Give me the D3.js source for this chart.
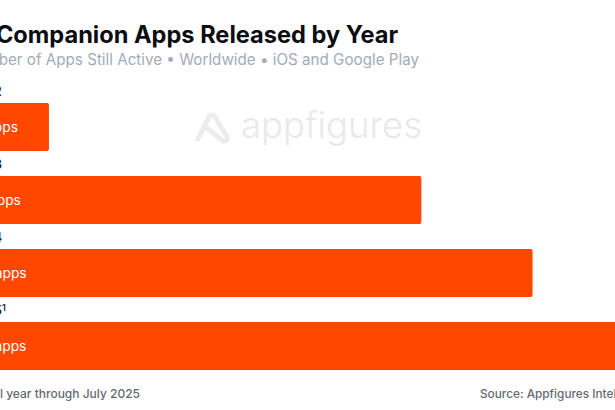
<!DOCTYPE html>
<html>
<head>
<meta charset="utf-8">
<script src="https://cdn.jsdelivr.net/npm/d3@7"></script>
<style>
  html, body { margin: 0; padding: 0; background: #fff; overflow: hidden; }
  svg { display: block; font-family: Inter, sans-serif; }
</style>
</head>
<body>
<svg id="chart" width="615" height="410"></svg>
<script>
var years = ['2022', '2023', '2024', '2025'];
var apps = [16, 83, 103, 128];
var barLabels = ['16 apps', '83 apps', '103 apps', '128 apps'];

var left = -40;
var svg = d3.select('#chart');

var x = d3.scaleLinear().domain([0, 128]).range([left, left + 711.5]);
var y = d3.scaleBand().domain(years).range([103, 370]).paddingInner(0.342);

// title block, the page crops it on the left
svg.append('text').attr('x', 398).attr('y', 43).attr('text-anchor', 'end')
  .attr('font-size', 23.6).attr('font-weight', 700).attr('fill', '#0b0d12')
  .text('AI Companion Apps Released by Year');
svg.append('text').attr('x', 419).attr('y', 65).attr('text-anchor', 'end')
  .attr('font-size', 15.2).attr('fill', '#a3abb8')
  .text('Number of Apps Still Active • Worldwide • iOS and Google Play');

// watermark
var mark = svg.append('g').attr('transform', 'translate(195,111)');
mark.append('path')
  .attr('d', 'M3,28 L14,6 Q17,2 20,6 L32,26 Q33,31 28,30 L13,18')
  .attr('fill', 'none').attr('stroke', '#ececec').attr('stroke-width', 5)
  .attr('stroke-linecap', 'round').attr('stroke-linejoin', 'round');
svg.append('text').attr('x', 241).attr('y', 138)
  .attr('font-size', 36.5).attr('font-weight', 300).attr('fill', '#e9e9e9')
  .text('appfigures');

// bars
svg.selectAll('rect.bar').data(apps).join('rect')
  .attr('class', 'bar')
  .attr('x', left)
  .attr('y', function(d, i) { return y(years[i]); })
  .attr('width', function(d) { return x(d) - left; })
  .attr('height', y.bandwidth())
  .attr('rx', 2)
  .attr('fill', '#ff4700');

svg.selectAll('text.value').data(barLabels).join('text')
  .attr('class', 'value')
  .attr('x', left + 8)
  .attr('y', function(d, i) { return y(years[i]) + y.bandwidth() / 2 + 5; })
  .attr('font-size', 13.8).attr('fill', '#fff')
  .text(function(d) { return d; });

// year labels sit above each bar
var yearText = svg.selectAll('text.year').data(years).join('text')
  .attr('class', 'year')
  .attr('x', -31)
  .attr('y', function(d) { return y(d) - 7; })
  .attr('font-size', 13).attr('font-weight', 600).attr('fill', '#23262d')
  .text(function(d) { return d; });
yearText.filter(function(d) { return d === '2025'; })
  .append('tspan').attr('font-size', 9).attr('dy', -4).text('1');

// footer
svg.append('text').attr('x', 140).attr('y', 398).attr('text-anchor', 'end')
  .attr('font-size', 12).attr('font-weight', 500).attr('fill', '#666a72')
  .text('¹Partial year through July 2025');
svg.append('text').attr('x', 480).attr('y', 398)
  .attr('font-size', 11.8).attr('font-weight', 500).attr('fill', '#666a72')
  .text('Source: Appfigures Intelligence');
</script>
</body>
</html>
